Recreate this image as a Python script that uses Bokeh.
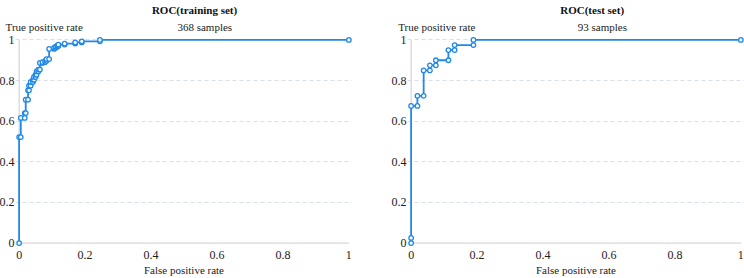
from bokeh.plotting import figure
from bokeh.layouts import row
from bokeh.models import FixedTicker, LinearAxis
from bokeh.embed import file_html
from bokeh.resources import INLINE

# ROC curve points (false positive rate, true positive rate)
fpr_train = [0.000, 0.000, 0.005, 0.005, 0.017, 0.017, 0.020, 0.020, 0.027, 0.027,
             0.030, 0.030, 0.035, 0.035, 0.042, 0.042, 0.045, 0.045, 0.050, 0.050,
             0.053, 0.053, 0.058, 0.058, 0.063, 0.063, 0.071, 0.071, 0.079, 0.079,
             0.083, 0.083, 0.091, 0.091, 0.106, 0.106, 0.111, 0.111, 0.116, 0.116,
             0.119, 0.119, 0.138, 0.138, 0.170, 0.170, 0.190, 0.190, 0.245, 0.245,
             1.000]
tpr_train = [0.000, 0.522, 0.522, 0.616, 0.616, 0.640, 0.640, 0.706, 0.706, 0.752,
             0.752, 0.775, 0.775, 0.793, 0.793, 0.804, 0.804, 0.818, 0.818, 0.829,
             0.829, 0.845, 0.845, 0.854, 0.854, 0.887, 0.887, 0.891, 0.891, 0.897,
             0.897, 0.906, 0.906, 0.956, 0.956, 0.962, 0.962, 0.967, 0.967, 0.972,
             0.972, 0.977, 0.977, 0.982, 0.982, 0.988, 0.988, 0.993, 0.993, 1.000,
             1.000]

fpr_test = [0.000, 0.000, 0.000, 0.019, 0.019, 0.038, 0.038, 0.057, 0.057,
            0.075, 0.075, 0.113, 0.113, 0.132, 0.132, 0.189, 0.189, 1.000]
tpr_test = [0.000, 0.025, 0.675, 0.675, 0.725, 0.725, 0.850, 0.850, 0.875,
            0.875, 0.900, 0.900, 0.950, 0.950, 0.975, 0.975, 1.000, 1.000]

n_train = 368
n_test = 93

tick_values = [0, 0.2, 0.4, 0.6, 0.8, 1]
tick_labels = ["0", "0.2", "0.4", "0.6", "0.8", "1"]

BLUE = "#1f88e8"
FONT = "Liberation Serif"
TEXT = "#222222"


def plain_axis(ax, size, style="normal", color=TEXT):
    ax.axis_line_color = None
    ax.major_tick_line_color = None
    ax.minor_tick_line_color = None
    ax.major_tick_out = 0
    ax.major_tick_in = 0
    ax.minor_tick_out = 0
    ax.minor_tick_in = 0
    ax.major_label_text_font = FONT
    ax.major_label_text_font_size = size
    ax.major_label_text_font_style = style
    ax.major_label_text_color = color


def roc_panel(fpr, tpr, title, n, border_left, border_right, title_x, header_x):
    p = figure(frame_width=337, frame_height=210,
               x_range=(-0.011, 1.011), y_range=(-0.017, 1.017),
               min_border_left=border_left, min_border_right=border_right,
               min_border_top=36, min_border_bottom=31,
               title=None, toolbar_location=None, output_backend="svg")
    p.outline_line_color = None
    p.background_fill_color = "white"
    p.border_fill_color = "white"

    overrides = dict(zip(tick_values, tick_labels))
    for ax in (p.xaxis[0], p.yaxis[0]):
        ax.ticker = FixedTicker(ticks=tick_values)
        ax.major_label_overrides = overrides
        plain_axis(ax, "12px")
    p.xaxis.major_label_standoff = 4
    p.yaxis.major_label_standoff = 1
    p.yaxis.axis_label_standoff = 0
    p.xaxis.axis_label = "False positive rate"
    p.xaxis.axis_label_standoff = 2
    p.xaxis.axis_label_text_font = FONT
    p.xaxis.axis_label_text_font_size = "11px"
    p.xaxis.axis_label_text_font_style = "normal"
    p.xaxis.axis_label_text_color = TEXT

    # header row: y-axis caption on the left, sample count in the middle
    header = LinearAxis(ticker=FixedTicker(ticks=list(header_x)),
                        major_label_overrides={header_x[0]: "True positive rate",
                                               header_x[1]: f"{n} samples"})
    plain_axis(header, "11px")
    header.major_label_standoff = 4
    header.axis_label_standoff = 0
    p.add_layout(header, "above")

    # chart title row, above the header row
    heading = LinearAxis(ticker=FixedTicker(ticks=[title_x]),
                         major_label_overrides={title_x: title})
    plain_axis(heading, "11px", style="bold", color="#111111")
    heading.major_label_standoff = 2
    heading.axis_label_standoff = 0
    p.add_layout(heading, "above")

    p.xgrid.grid_line_color = None
    p.ygrid.grid_line_color = "#d9e0ec"
    p.ygrid.grid_line_dash = "4 3"
    p.ygrid.ticker = FixedTicker(ticks=tick_values[1:])

    # axis lines along x=0 and y=0
    p.segment(x0=[0, 0], y0=[0, 0], x1=[1, 0], y1=[0, 1],
              line_color="#cccccc", line_width=1)

    p.line(fpr, tpr, line_color=BLUE, line_width=1.8)
    p.scatter(fpr, tpr, size=4.5, marker="circle", line_color=BLUE,
              line_width=1.3, fill_color="white")
    return p


p1 = roc_panel(fpr_train, tpr_train, "ROC(training set)", n_train, 24, 32,
               0.532, (0.076, 0.563))
p1.margin = (0, 0, 0, -9)

p2 = roc_panel(fpr_test, tpr_test, "ROC(test set)", n_test, 23, 0,
               0.549, (0.078, 0.580))

layout = row(p1, p2)
open("out.html", "w").write(file_html(layout, INLINE))
